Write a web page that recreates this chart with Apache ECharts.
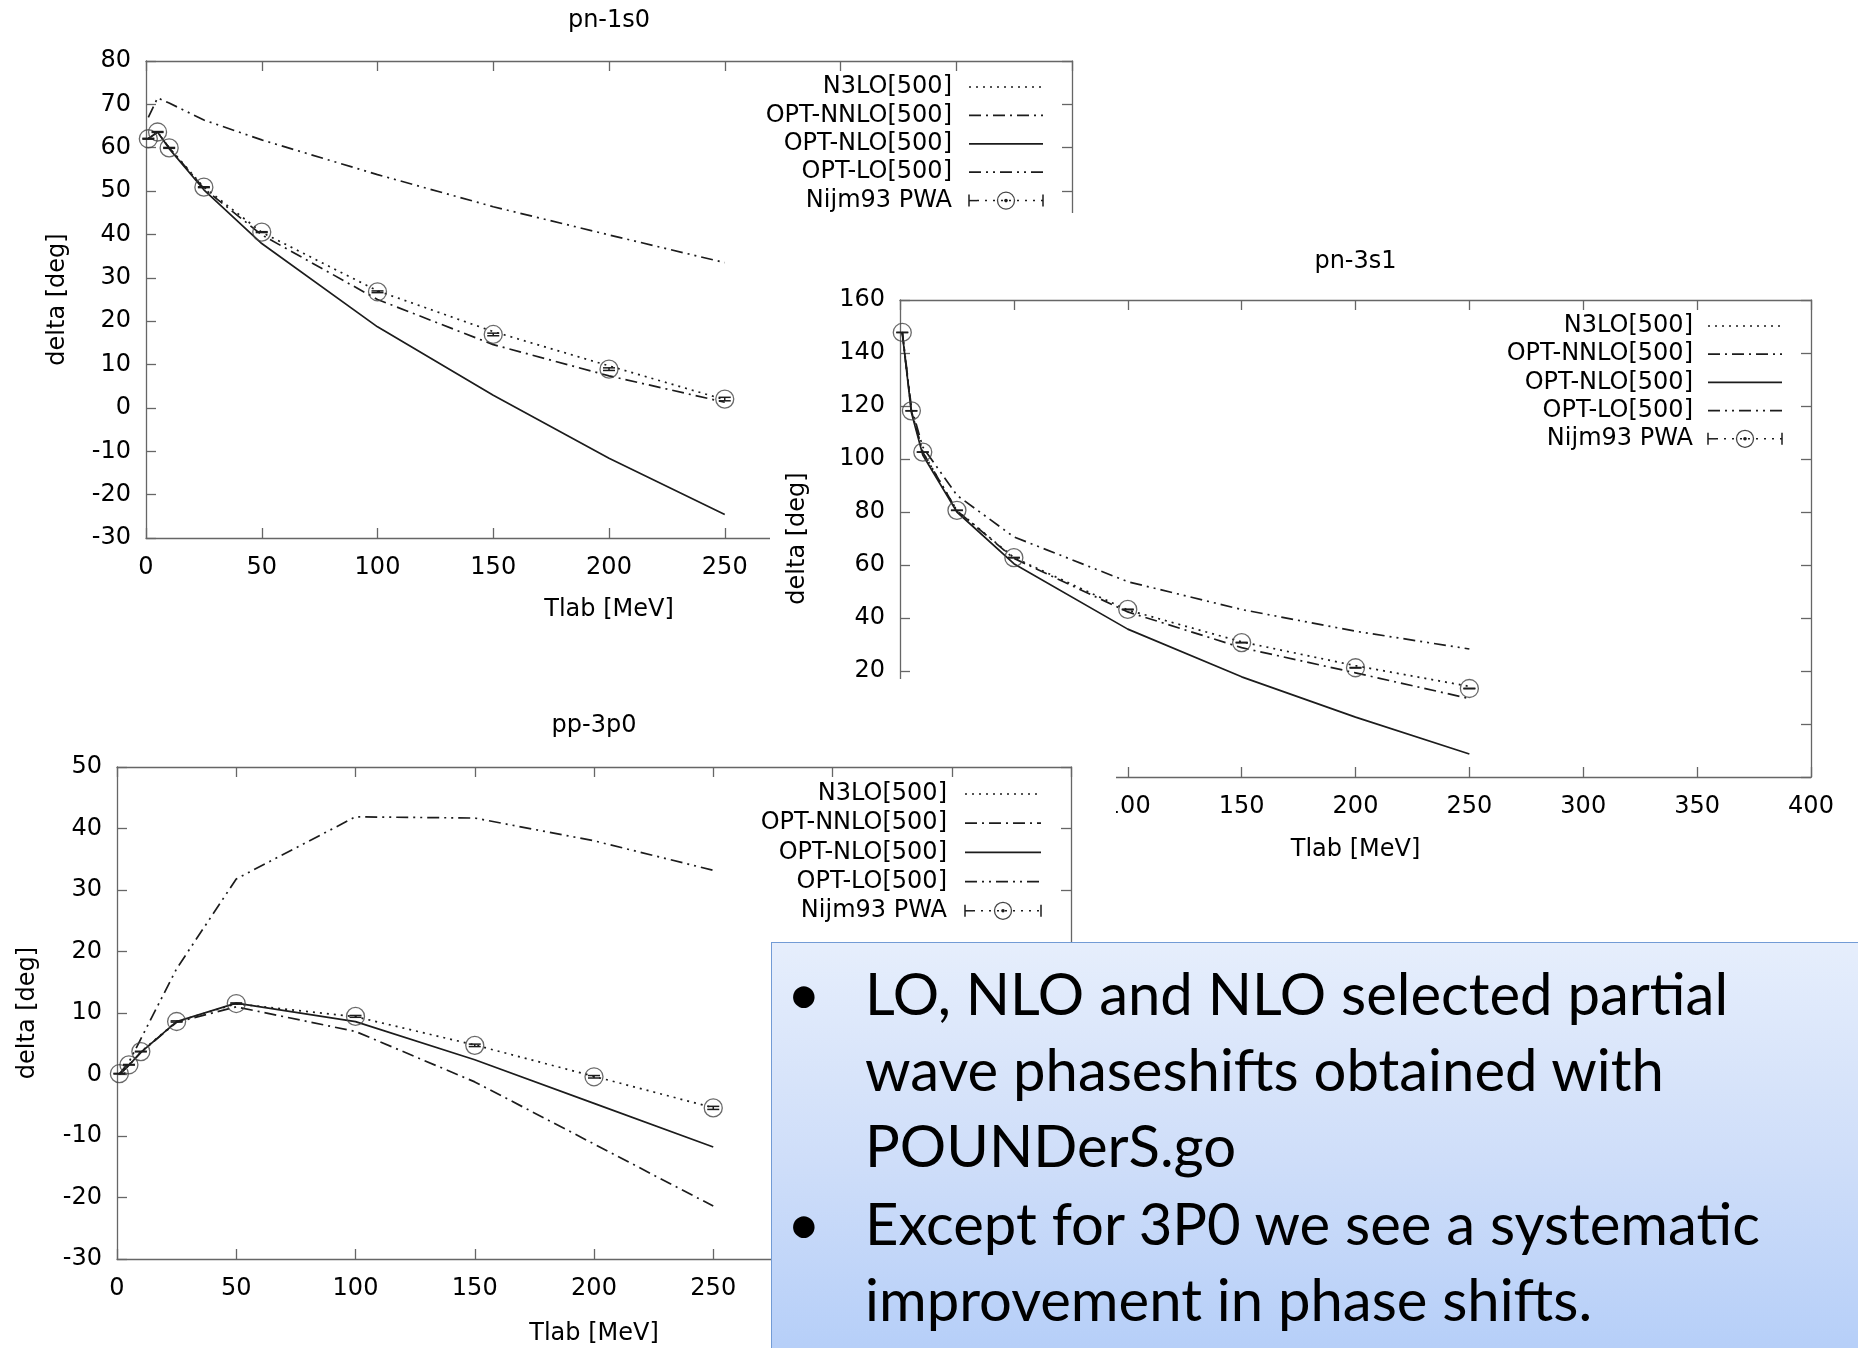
<!DOCTYPE html>
<html>
<head>
<meta charset="utf-8">
<title>Partial wave phase shifts</title>
<script src="https://cdn.jsdelivr.net/npm/echarts@6/dist/echarts.min.js"></script>
<style>
  html, body { margin: 0; padding: 0; width: 1858px; height: 1348px; overflow: hidden; background: #fff; }
  .panel { position: absolute; background: #fff; }
  #c1 { left: 0; top: 0; width: 1858px; height: 1348px; z-index: 1; }
  #c2 { left: 770px; top: 213px; width: 1088px; height: 729px; z-index: 2; }
  #c3 { left: 0; top: 679px; width: 1116px; height: 669px; z-index: 3; }
  #note {
    position: absolute; left: 771px; top: 942px; width: 1120px; height: 430px; z-index: 4;
    box-sizing: border-box; border: 1.5px solid #729bd5;
    background: linear-gradient(to bottom, #e6eefc 0%, #cfdef9 50%, #b3cdf8 100%);
    font-family: Lato, "Open Sans", sans-serif; font-size: 58px; line-height: 76px; color: #000;
    padding-top: 12px;
  }
  #note .item { position: relative; padding-left: 93px; white-space: nowrap; }
  #note .item + .item { margin-top: 2px; }
  #note .dot { position: absolute; left: 15px; top: 0; }
</style>
</head>
<body>
<div id="c1" class="panel"></div>
<div id="c2" class="panel"></div>
<div id="c3" class="panel"></div>
<div id="note">
  <div class="item"><span class="dot">•</span>LO, NLO and NLO selected partial<br>wave phaseshifts obtained with<br>POUNDerS.go</div>
  <div class="item"><span class="dot">•</span>Except for 3P0 we see a systematic<br>improvement in phase shifts.</div>
</div>
<script>
// Laboratory kinetic energies (MeV) at which the phase shifts are tabulated
const tlab = [1, 5, 10, 25, 50, 100, 150, 200, 250];

const seriesNames = ['N3LO[500]', 'OPT-NNLO[500]', 'OPT-NLO[500]', 'OPT-LO[500]', 'Nijm93 PWA'];

// pn 1S0 phase shifts (deg)
const pn1s0_n3lo = [62.1, 63.6, 60.0, 50.9, 40.5, 27.0, 17.6, 9.7, 1.9];
const pn1s0_nnlo = [62.1, 63.6, 60.0, 50.6, 39.9, 25.0, 14.6, 7.4, 1.3];
const pn1s0_nlo  = [62.1, 63.6, 59.8, 50.3, 37.9, 18.7, 2.9, -11.6, -24.6];
const pn1s0_lo   = [67.0, 71.5, 70.3, 66.4, 61.8, 53.8, 46.4, 39.9, 33.5];
const pn1s0_nijm = [62.07, 63.63, 59.96, 50.90, 40.54, 26.78, 16.94, 8.94, 2.04];
const pn1s0_err  = [0.1, 0.1, 0.1, 0.1, 0.1, 0.2, 0.3, 0.3, 0.4];

// pn 3S1 phase shifts (deg)
const pn3s1_n3lo = [147.7, 118.2, 102.6, 80.6, 62.8, 43.0, 31.0, 22.0, 14.2];
const pn3s1_nnlo = [147.7, 118.2, 102.6, 80.5, 62.5, 42.3, 28.8, 19.3, 9.6];
const pn3s1_nlo  = [147.5, 117.5, 101.5, 80.0, 60.5, 35.8, 17.8, 2.6, -11.3];
const pn3s1_lo   = [148.0, 119.5, 104.5, 86.3, 70.6, 53.7, 43.2, 35.0, 28.3];
const pn3s1_nijm = [147.75, 118.18, 102.61, 80.63, 62.77, 43.23, 30.72, 21.22, 13.39];
const pn3s1_err  = [0.05, 0.05, 0.05, 0.05, 0.1, 0.1, 0.1, 0.1, 0.1];

// pp 3P0 phase shifts (deg)
const pp3p0_n3lo = [0.1, 1.6, 3.7, 8.6, 11.5, 9.4, 4.8, -0.3, -5.4];
const pp3p0_nnlo = [0.0, 1.5, 3.6, 8.5, 11.0, 7.0, -1.2, -11.3, -21.4];
const pp3p0_nlo  = [0.0, 1.5, 3.6, 8.6, 11.6, 8.6, 2.4, -4.7, -11.8];
const pp3p0_lo   = [0.1, 2.0, 5.8, 17.2, 31.8, 41.9, 41.7, 38.0, 33.2];
const pp3p0_nijm = [0.13, 1.58, 3.73, 8.62, 11.54, 9.45, 4.74, -0.37, -5.43];
const pp3p0_err  = [0.05, 0.05, 0.05, 0.1, 0.1, 0.15, 0.2, 0.2, 0.25];

const INK = '#1c1c1c';
const FRAME = '#666666';
const FONT = '"DejaVu Sans"';
const FS = 24;
const DASH = {
  n3lo: [2, 5],
  nnlo: [12, 5, 2, 5],
  nlo: 'solid',
  lo: [12, 5, 2, 5, 2, 5]
};

function pairs(ys) { return tlab.map((x, i) => [x, ys[i]]); }

function errorBar(params, api) {
  const x = api.value(0), y = api.value(1), e = api.value(2);
  const hi = api.coord([x, y + e]);
  const lo = api.coord([x, y - e]);
  const hw = 6;
  const st = { stroke: INK, lineWidth: 1.5 };
  return {
    type: 'group',
    children: [
      { type: 'line', shape: { x1: hi[0], y1: hi[1], x2: lo[0], y2: lo[1] }, style: st },
      { type: 'line', shape: { x1: hi[0] - hw, y1: hi[1], x2: hi[0] + hw, y2: hi[1] }, style: st },
      { type: 'line', shape: { x1: lo[0] - hw, y1: lo[1], x2: lo[0] + hw, y2: lo[1] }, style: st }
    ]
  };
}

// Key in the gnuplot style: right-aligned label followed by a line sample
function keyGraphic(k) {
  const els = [];
  const styles = [DASH.n3lo, DASH.nnlo, null, DASH.lo];
  seriesNames.forEach((name, i) => {
    const y = k.y0 + i * k.dy;
    els.push({
      type: 'text', x: k.textRight, y: y, z: 20,
      style: { text: name, fill: '#000', fontFamily: FONT, fontSize: FS, align: 'right', verticalAlign: 'middle' }
    });
    if (i < 4) {
      els.push({
        type: 'line', z: 20,
        shape: { x1: k.x0, y1: y, x2: k.x1, y2: y },
        style: { stroke: INK, lineWidth: 1.7, lineDash: styles[i] || null }
      });
    } else {
      const mid = (k.x0 + k.x1) / 2;
      const st = { stroke: INK, lineWidth: 1.5 };
      els.push({ type: 'line', z: 20, shape: { x1: k.x0, y1: y - 6, x2: k.x0, y2: y + 6 }, style: st });
      els.push({ type: 'line', z: 20, shape: { x1: k.x1, y1: y - 6, x2: k.x1, y2: y + 6 }, style: st });
      els.push({ type: 'line', z: 20, shape: { x1: k.x0, y1: y, x2: k.x0 + 8, y2: y }, style: st });
      els.push({ type: 'line', z: 20, shape: { x1: k.x0 + 8, y1: y, x2: k.x1, y2: y },
        style: { stroke: INK, lineWidth: 1.5, lineDash: [2, 6] } });
      els.push({ type: 'circle', z: 21, shape: { cx: mid, cy: y, r: 8.5 },
        style: { fill: 'rgba(0,0,0,0)', stroke: '#444', lineWidth: 1.3 } });
      els.push({ type: 'circle', z: 21, shape: { cx: mid, cy: y, r: 1.8 }, style: { fill: INK } });
    }
  });
  return els;
}

function makePanel(id, cfg) {
  const chart = echarts.init(document.getElementById(id), null, { renderer: 'canvas' });
  const g = cfg.grid;
  const axisLine = { show: true, onZero: false, lineStyle: { color: FRAME, width: 1.3 } };
  const axisTick = { show: true, inside: true, length: 10, lineStyle: { color: FRAME, width: 1.3 } };
  const text = { color: '#000', fontFamily: FONT, fontSize: FS };
  const xCommon = { type: 'value', min: 0, max: 400, interval: 50, splitLine: { show: false }, axisLine, axisTick };
  const yCommon = { type: 'value', min: cfg.ymin, max: cfg.ymax, interval: cfg.ystep, splitLine: { show: false }, axisLine, axisTick };

  const lines = [
    ['N3LO[500]', cfg.n3lo, DASH.n3lo],
    ['OPT-NNLO[500]', cfg.nnlo, DASH.nnlo],
    ['OPT-NLO[500]', cfg.nlo, DASH.nlo],
    ['OPT-LO[500]', cfg.lo, DASH.lo]
  ].map(([name, ys, dash]) => ({
    type: 'line', name, data: pairs(ys), symbol: 'none', smooth: false, z: 3,
    lineStyle: { color: INK, width: 1.7, type: dash }
  }));

  chart.setOption({
    animation: false,
    backgroundColor: '#ffffff',
    grid: { left: g.left, top: g.top, width: g.width, height: g.height, containLabel: false, outerBoundsMode: 'none' },
    xAxis: [
      Object.assign({}, xCommon, {
        position: 'bottom',
        axisLabel: Object.assign({ margin: 18 }, text),
        name: 'Tlab [MeV]', nameLocation: 'middle', nameGap: cfg.xNameGap, nameMoveOverlap: false,
        nameTextStyle: text
      }),
      Object.assign({}, xCommon, { position: 'top', axisLabel: { show: false } })
    ],
    yAxis: [
      Object.assign({}, yCommon, {
        position: 'left',
        axisLabel: Object.assign({ margin: 15 }, text),
        name: 'delta [deg]', nameLocation: 'middle', nameGap: cfg.yNameGap, nameMoveOverlap: false,
        nameTextStyle: text
      }),
      Object.assign({}, yCommon, { position: 'right', axisLabel: { show: false } })
    ],
    graphic: [
      {
        type: 'text', x: g.left + g.width / 2, y: cfg.titleY, z: 20,
        style: { text: cfg.title, fill: '#000', fontFamily: FONT, fontSize: FS, align: 'center', verticalAlign: 'middle' }
      }
    ].concat(keyGraphic(cfg.key)),
    series: lines.concat([
      {
        type: 'scatter', name: 'Nijm93 PWA', data: pairs(cfg.nijm), symbol: 'circle', symbolSize: 18, z: 4,
        itemStyle: { color: 'rgba(0,0,0,0)', borderColor: '#444', borderWidth: 1.3 }
      },
      {
        type: 'custom', name: 'Nijm93 PWA errors', z: 5,
        data: tlab.map((x, i) => [x, cfg.nijm[i], cfg.err[i]]),
        renderItem: errorBar
      }
    ])
  });
  return chart;
}

makePanel('c1', {
  title: 'pn-1s0', titleY: 21,
  grid: { left: 146, top: 61, width: 926, height: 477 },
  ymin: -30, ymax: 80, ystep: 10,
  xNameGap: 60, yNameGap: 76,
  key: { textRight: 952, x0: 969, x1: 1043, y0: 87, dy: 28.4 },
  n3lo: pn1s0_n3lo, nnlo: pn1s0_nnlo, nlo: pn1s0_nlo, lo: pn1s0_lo, nijm: pn1s0_nijm, err: pn1s0_err
});

makePanel('c2', {
  title: 'pn-3s1', titleY: 49,
  grid: { left: 130, top: 87, width: 911, height: 477 },
  ymin: -20, ymax: 160, ystep: 20,
  xNameGap: 61, yNameGap: 90,
  key: { textRight: 923, x0: 938, x1: 1012, y0: 113, dy: 28.2 },
  n3lo: pn3s1_n3lo, nnlo: pn3s1_nnlo, nlo: pn3s1_nlo, lo: pn3s1_lo, nijm: pn3s1_nijm, err: pn3s1_err
});

makePanel('c3', {
  title: 'pp-3p0', titleY: 47,
  grid: { left: 117, top: 88, width: 954, height: 492 },
  ymin: -30, ymax: 50, ystep: 10,
  xNameGap: 63, yNameGap: 77,
  key: { textRight: 947, x0: 965, x1: 1041, y0: 115, dy: 29.2 },
  n3lo: pp3p0_n3lo, nnlo: pp3p0_nnlo, nlo: pp3p0_nlo, lo: pp3p0_lo, nijm: pp3p0_nijm, err: pp3p0_err
});
</script>
</body>
</html>
